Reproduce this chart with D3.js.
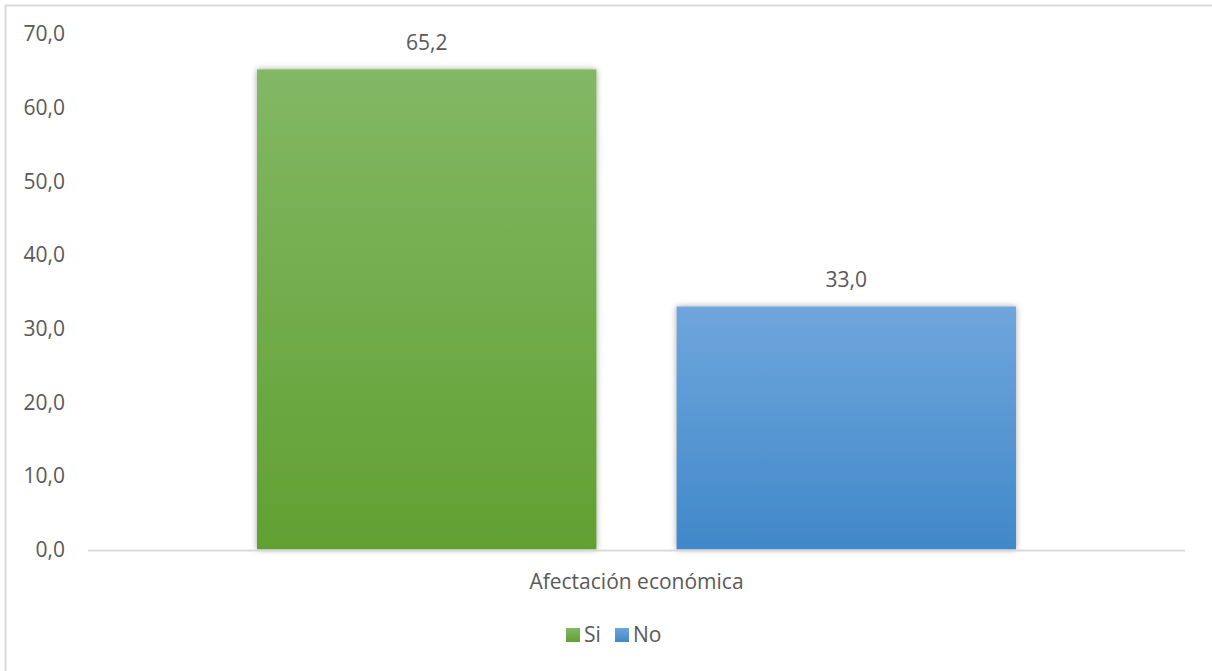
<!DOCTYPE html>
<html><head><meta charset="utf-8">
<script src="https://cdn.jsdelivr.net/npm/d3@7"></script>
<style>body{margin:0;background:#fff}svg{display:block}text{font-family:"Open Sans",sans-serif;fill:#595959}</style>
</head><body>
<script>
const categories = ["Afectación económica"];
const series = ["Si", "No"];
const values = [65.2, 33.0];
const yTicks = [0, 10, 20, 30, 40, 50, 60, 70];
const colorsTop = ["#82b864", "#6fa6dc"];
const colorsBottom = ["#61a032", "#4088c9"];

const W = 1212, H = 671;
const FS = 21;
const svg = d3.select("body").append("svg").attr("width", W).attr("height", H);
const defs = svg.append("defs");
series.forEach((s, i) => {
  const g = defs.append("linearGradient").attr("id", "g" + i).attr("x1", 0).attr("y1", 0).attr("x2", 0).attr("y2", 1);
  g.append("stop").attr("offset", "0%").attr("stop-color", colorsTop[i]);
  g.append("stop").attr("offset", "100%").attr("stop-color", colorsBottom[i]);
});
const f = defs.append("filter").attr("id", "sh").attr("x", "-10%").attr("y", "-10%").attr("width", "120%").attr("height", "120%");
f.append("feDropShadow").attr("dx", 0).attr("dy", 0).attr("stdDeviation", 3).attr("flood-color", "#000").attr("flood-opacity", 0.35);

svg.append("rect").attr("x", 5.5).attr("y", 5.5).attr("width", W + 10).attr("height", H + 10)
  .attr("fill", "none").attr("stroke", "#d9d9d9").attr("stroke-width", 2);

const mLeft = 88, mRight = 1185, mTop = 34, mBottom = 549.5;
const y = d3.scaleLinear().domain([0, 70]).range([mBottom, mTop]);
const x0 = d3.scaleBand().domain(categories).range([mLeft, mRight]).paddingInner(0).paddingOuter(0.2227);
const x1 = d3.scaleBand().domain(series).range([0, x0.bandwidth()]).paddingInner(0.191);

svg.append("g").selectAll("text").data(yTicks).join("text")
  .attr("x", 65).attr("y", d => y(d)).attr("dy", "0.35em").attr("text-anchor", "end")
  .attr("font-size", FS).text(d => d.toFixed(1).replace(".", ","));

const cat = categories[0];
const g = svg.append("g").attr("transform", `translate(${x0(cat)},0)`);
g.selectAll("rect").data(values).join("rect")
  .attr("x", (d, i) => x1(series[i])).attr("width", x1.bandwidth())
  .attr("y", d => y(d)).attr("height", d => y(0) - y(d))
  .attr("fill", (d, i) => `url(#g${i})`).attr("filter", "url(#sh)");
g.selectAll("text").data(values).join("text")
  .attr("x", (d, i) => x1(series[i]) + x1.bandwidth() / 2).attr("y", d => y(d) - 19)
  .attr("text-anchor", "middle").attr("font-size", FS).text(d => d.toFixed(1).replace(".", ","));

svg.append("line").attr("x1", mLeft).attr("x2", mRight).attr("y1", mBottom + 1).attr("y2", mBottom + 1)
  .attr("stroke", "#d9d9d9").attr("stroke-width", 2);

svg.append("text").attr("x", x0(cat) + x0.bandwidth() / 2).attr("y", 589).attr("text-anchor", "middle")
  .attr("font-size", FS).text(cat);

const legend = svg.append("g");
const lx = [566, 615];
series.forEach((s, i) => {
  legend.append("rect").attr("x", lx[i]).attr("y", 628).attr("width", 14).attr("height", 14)
    .attr("fill", `url(#g${i})`);
  legend.append("text").attr("x", lx[i] + 18).attr("y", 635).attr("dy", "0.35em").attr("font-size", FS).text(s);
});
</script>
</body></html>
